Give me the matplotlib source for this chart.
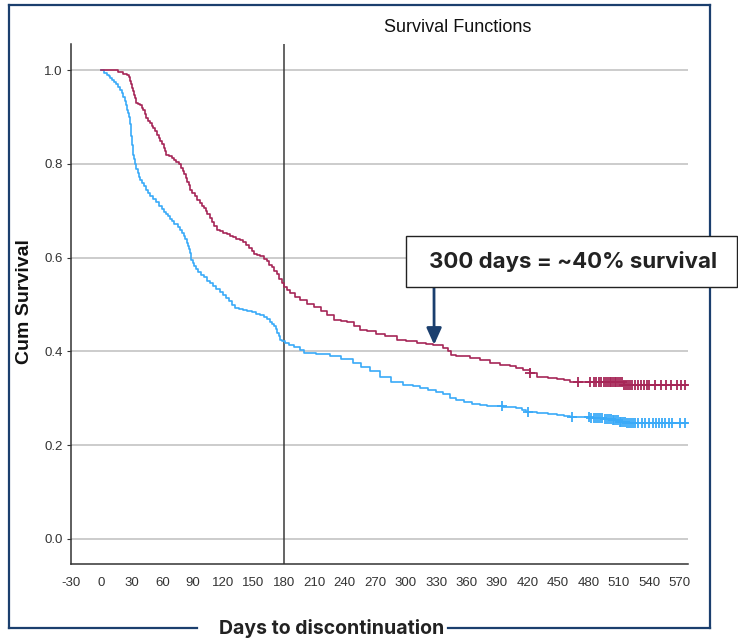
import numpy as np
from matplotlib import pyplot as plt
from matplotlib.patches import Rectangle
from matplotlib.lines import Line2D

plt.rcParams["axes.unicode_minus"] = False

# Kaplan-Meier step data (days, cumulative survival)
red_days = [0, 16, 21, 25, 27, 28, 29, 30, 31, 32, 33, 34, 36, 38, 40, 41, 43,
            44, 46, 48, 50, 51, 53, 55, 57, 58, 60, 62, 63, 64, 67, 70, 72, 74,
            76, 78, 80, 81, 83, 84, 86, 87, 89, 92, 94, 97, 99, 101, 103, 104,
            107, 109, 111, 114, 117, 120, 124, 127, 130, 133, 137, 140, 143, 145,
            148, 150, 153, 156, 160, 163, 165, 168, 170, 173, 175, 178, 180, 183,
            186, 191, 196, 203, 210, 216, 222, 229, 236, 242, 249, 255, 262, 271,
            280, 291, 300, 311, 320, 327, 337, 342, 345, 350, 363, 373, 383, 393,
            403, 409, 416, 423, 429, 440, 449, 456, 462, 515]
red_surv = [1.0, 0.997, 0.993, 0.99, 0.985, 0.978, 0.97, 0.963, 0.955, 0.947,
            0.94, 0.93, 0.927, 0.925, 0.92, 0.915, 0.906, 0.897, 0.892, 0.888,
            0.882, 0.877, 0.87, 0.862, 0.856, 0.85, 0.843, 0.835, 0.828, 0.82,
            0.817, 0.813, 0.809, 0.805, 0.799, 0.792, 0.785, 0.778, 0.77, 0.762,
            0.754, 0.745, 0.738, 0.732, 0.724, 0.716, 0.71, 0.705, 0.699, 0.693,
            0.685, 0.677, 0.668, 0.66, 0.656, 0.652, 0.65, 0.647, 0.644, 0.64,
            0.637, 0.633, 0.627, 0.62, 0.614, 0.608, 0.605, 0.603, 0.598, 0.592,
            0.585, 0.579, 0.572, 0.564, 0.555, 0.546, 0.538, 0.531, 0.525, 0.517,
            0.51, 0.502, 0.495, 0.487, 0.477, 0.467, 0.465, 0.462, 0.453, 0.446,
            0.443, 0.438, 0.432, 0.424, 0.421, 0.417, 0.415, 0.413, 0.408, 0.4,
            0.393, 0.39, 0.385, 0.381, 0.376, 0.371, 0.368, 0.364, 0.36, 0.353,
            0.346, 0.344, 0.341, 0.338, 0.334, 0.328]
red_censored = [423, 470, 482, 486, 488, 491, 493, 495, 497, 499, 501, 502, 504,
                506, 507, 509, 511, 513, 515, 517, 519, 521, 523, 526, 529, 532,
                535, 538, 540, 546, 552, 557, 562, 567, 571, 575]

blue_days = [0, 3, 5, 7, 8, 10, 12, 14, 16, 18, 20, 21, 23, 24, 25, 26, 27, 28,
             28.5, 29, 29.5, 30, 30.5, 31, 32, 33, 34, 36, 37, 38, 40, 42, 44, 46,
             48, 51, 54, 57, 60, 62, 64, 66, 68, 70, 72, 75, 77, 79, 81, 82, 84,
             85, 86, 87, 88, 90, 91, 93, 95, 98, 101, 104, 107, 110, 113, 117,
             120, 123, 126, 129, 132, 136, 140, 144, 148, 152, 156, 160, 163, 166,
             168, 170, 172, 173, 175, 176, 178, 181, 185, 190, 196, 200, 212, 225,
             236, 248, 256, 265, 275, 285, 297, 307, 314, 322, 330, 337, 344, 350,
             357, 365, 373, 380, 396, 409, 415, 419, 429, 440, 449, 456, 462, 482,
             495, 503, 511, 518]
blue_surv = [1.0, 0.995, 0.99, 0.987, 0.983, 0.979, 0.975, 0.97, 0.965, 0.958,
             0.951, 0.943, 0.935, 0.925, 0.915, 0.908, 0.9, 0.892, 0.885, 0.873,
             0.86, 0.85, 0.84, 0.82, 0.81, 0.8, 0.79, 0.78, 0.773, 0.766, 0.759,
             0.752, 0.745, 0.738, 0.732, 0.726, 0.718, 0.71, 0.704, 0.698, 0.693,
             0.688, 0.683, 0.678, 0.672, 0.665, 0.658, 0.652, 0.646, 0.64, 0.632,
             0.625, 0.618, 0.61, 0.595, 0.588, 0.582, 0.575, 0.569, 0.563, 0.558,
             0.551, 0.545, 0.539, 0.533, 0.526, 0.52, 0.513, 0.507, 0.499, 0.492,
             0.49, 0.488, 0.485, 0.483, 0.48, 0.478, 0.474, 0.47, 0.463, 0.459,
             0.455, 0.448, 0.44, 0.432, 0.425, 0.421, 0.417, 0.413, 0.41, 0.403,
             0.396, 0.394, 0.389, 0.383, 0.374, 0.366, 0.358, 0.345, 0.334, 0.328,
             0.325, 0.321, 0.318, 0.314, 0.308, 0.3, 0.296, 0.292, 0.288, 0.285,
             0.283, 0.281, 0.278, 0.274, 0.271, 0.268, 0.266, 0.264, 0.262, 0.26,
             0.258, 0.256, 0.253, 0.25, 0.246]
blue_censored = [395, 421, 464, 481, 483, 486, 488, 490, 492, 494, 496, 498, 500,
                 502, 504, 505, 507, 509, 511, 512, 514, 516, 518, 520, 522, 524,
                 526, 529, 533, 536, 540, 544, 547, 550, 553, 556, 560, 563, 570,
                 575]

last_day = 577
x_ticks = list(range(-30, 571, 30))
y_ticks = [0.0, 0.2, 0.4, 0.6, 0.8, 1.0]
marker_day = 180

red = "#A62657"
blue = "#3AAAF8"
navy = "#1B3F6E"

W, H = 738, 638
fig = plt.figure(figsize=(W / 100, H / 100), dpi=100)
ax = fig.add_axes([71 / W, 1 - 564 / H, (688 - 71) / W, (564 - 44) / H])


def km(ax, days, surv, censored, color):
    d = np.array(days + [last_day])
    s = np.array(surv + [surv[-1]])
    ax.step(d, s, where="post", color=color, lw=1.2, zorder=3)
    idx = np.searchsorted(days, censored, side="right") - 1
    ax.plot(censored, np.array(surv)[idx], ls="none", marker="+", ms=7.5,
            mew=1.3, color=color, zorder=4)


km(ax, blue_days, blue_surv, blue_censored, blue)
km(ax, red_days, red_surv, red_censored, red)

ax.axvline(marker_day, color="#3a3a3a", lw=1.1, zorder=2)

ax.set_xlim(-30, 578.3)
ax.set_ylim(-0.054, 1.056)
ax.set_xticks(x_ticks)
ax.set_yticks(y_ticks)
ax.set_yticklabels([f"{v:.1f}" for v in y_ticks])
ax.yaxis.grid(True, color="#c8c8c8", lw=1.3, zorder=1)
ax.set_axisbelow(True)
for s in ["top", "right"]:
    ax.spines[s].set_visible(False)
for s in ["left", "bottom"]:
    ax.spines[s].set_color("#333333")
    ax.spines[s].set_linewidth(1.1)
ax.tick_params(axis="x", length=0, pad=9, labelsize=9.5, colors="#333333")
ax.tick_params(axis="y", length=3, pad=3, labelsize=9.5, colors="#333333")
for lab in ax.get_xticklabels() + ax.get_yticklabels():
    lab.set_family("Liberation Sans")

fig.text(458 / W, 1 - 27 / H, "Survival Functions", ha="center", va="center",
         fontsize=13, family="Liberation Sans", color="#111111")
fig.text(25 / W, 1 - 302 / H, "Cum Survival", rotation=90, ha="center",
         va="center", fontsize=14, fontweight="bold", family="Liberation Sans",
         color="#111111")
fig.text(332 / W, 1 - 628 / H, "Days to discontinuation", ha="center",
         va="center", fontsize=14, fontweight="bold", family="Inter",
         color="#222222")

# outer frame, bottom edge broken by the axis title
frame = [((9, 5), (9, 628)), ((9, 5), (710, 5)), ((710, 5), (710, 628)),
         ((9, 628), (197, 628)), ((448, 628), (710, 628))]
for (x0, y0), (x1, y1) in frame:
    fig.add_artist(Line2D([x0 / W, x1 / W], [1 - y0 / H, 1 - y1 / H],
                          color=navy, lw=1.6))

# callout box with arrow
fig.add_artist(Rectangle((406 / W, 1 - 287 / H), (737 - 406) / W, 51 / H,
                         facecolor="white", edgecolor="#222222", lw=1.0,
                         zorder=5))
fig.text(573 / W, 1 - 262 / H, "300 days = ~40% survival", ha="center",
         va="center", fontsize=16, fontweight="bold", family="Inter",
         color="#222222", zorder=6)
ax.annotate("", xy=(328, 0.414), xytext=(434 / W, 1 - 287 / H),
            textcoords="figure fraction",
            arrowprops=dict(arrowstyle="-|>,head_width=0.45,head_length=1.0",
                            color=navy, lw=2, shrinkA=0, shrinkB=0),
            annotation_clip=False, zorder=6)

fig.savefig("out.png", dpi=100)
